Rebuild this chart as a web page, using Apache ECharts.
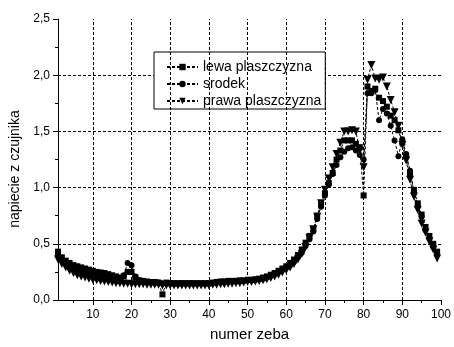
<!DOCTYPE html>
<html>
<head>
<meta charset="utf-8">
<script src="https://cdn.jsdelivr.net/npm/echarts@6/dist/echarts.min.js"></script>
<style>
  html, body { margin: 0; padding: 0; background: #fff; }
  #chart { width: 454px; height: 347px; }
</style>
</head>
<body>
<div id="chart"></div>
<script>
// numer zeba 1..99
const teeth = [
  1, 2, 3, 4, 5, 6, 7, 8, 9, 10, 11, 12, 13, 14, 15, 16, 17, 18, 19, 20,
  21, 22, 23, 24, 25, 26, 27, 28, 29, 30, 31, 32, 33, 34, 35, 36, 37, 38, 39, 40,
  41, 42, 43, 44, 45, 46, 47, 48, 49, 50, 51, 52, 53, 54, 55, 56, 57, 58, 59, 60,
  61, 62, 63, 64, 65, 66, 67, 68, 69, 70, 71, 72, 73, 74, 75, 76, 77, 78, 79, 80,
  81, 82, 83, 84, 85, 86, 87, 88, 89, 90, 91, 92, 93, 94, 95, 96, 97, 98, 99
]
const lewa = [
  0.43, 0.38, 0.35, 0.33, 0.31, 0.30, 0.29, 0.28, 0.27, 0.26,
  0.25, 0.245, 0.24, 0.23, 0.22, 0.21, 0.20, 0.21, 0.25, 0.25,
  0.20, 0.175, 0.17, 0.165, 0.16, 0.16, 0.155, 0.05, 0.155, 0.15,
  0.15, 0.15, 0.15, 0.15, 0.15, 0.15, 0.15, 0.15, 0.15, 0.15,
  0.155, 0.16, 0.165, 0.165, 0.17, 0.17, 0.17, 0.175, 0.175, 0.18,
  0.18, 0.185, 0.19, 0.20, 0.21, 0.225, 0.24, 0.26, 0.28, 0.30,
  0.33, 0.36, 0.40, 0.45, 0.51, 0.57, 0.63, 0.75, 0.85, 0.95,
  1.04, 1.13, 1.25, 1.33, 1.42, 1.42, 1.42, 1.39, 1.36, 0.93,
  1.90, 1.86, 1.88, 1.80, 1.77, 1.72, 1.64, 1.60, 1.51, 1.40,
  1.28, 1.13, 0.98, 0.86, 0.76, 0.65, 0.57, 0.50, 0.43
]
const srodek = [
  0.40, 0.36, 0.33, 0.31, 0.29, 0.27, 0.26, 0.25, 0.24, 0.23,
  0.22, 0.215, 0.21, 0.20, 0.19, 0.185, 0.18, 0.22, 0.33, 0.31,
  0.21, 0.175, 0.165, 0.16, 0.16, 0.155, 0.155, 0.15, 0.15, 0.15,
  0.145, 0.145, 0.145, 0.145, 0.145, 0.145, 0.145, 0.145, 0.145, 0.145,
  0.15, 0.155, 0.155, 0.16, 0.16, 0.165, 0.165, 0.17, 0.17, 0.175,
  0.175, 0.18, 0.185, 0.19, 0.20, 0.215, 0.23, 0.25, 0.27, 0.29,
  0.31, 0.34, 0.38, 0.42, 0.48, 0.54, 0.61, 0.72, 0.83, 0.93,
  1.03, 1.12, 1.20, 1.27, 1.32, 1.35, 1.36, 1.33, 1.29, 1.25,
  1.84, 1.84, 1.87, 1.60, 1.70, 1.66, 1.55, 1.42, 1.28, 1.43,
  1.30, 1.15, 0.96, 0.84, 0.74, 0.62, 0.55, 0.47, 0.42
]
const prawa = [
  0.36, 0.32, 0.29, 0.26, 0.24, 0.22, 0.21, 0.20, 0.19, 0.18,
  0.175, 0.17, 0.165, 0.16, 0.155, 0.15, 0.15, 0.145, 0.145, 0.14,
  0.14, 0.14, 0.14, 0.135, 0.135, 0.135, 0.135, 0.13, 0.13, 0.13,
  0.13, 0.13, 0.13, 0.13, 0.13, 0.13, 0.13, 0.13, 0.13, 0.13,
  0.135, 0.135, 0.14, 0.14, 0.145, 0.145, 0.15, 0.15, 0.155, 0.16,
  0.16, 0.165, 0.17, 0.175, 0.185, 0.195, 0.21, 0.225, 0.245, 0.265,
  0.29, 0.32, 0.36, 0.41, 0.47, 0.55, 0.63, 0.74, 0.86, 0.98,
  1.08, 1.18, 1.30, 1.40, 1.50, 1.50, 1.51, 1.50, 1.33, 1.18,
  1.96, 2.09, 1.97, 1.96, 1.98, 1.90, 1.78, 1.67, 1.55, 1.38,
  1.24, 1.07, 0.92, 0.80, 0.68, 0.60, 0.52, 0.45, 0.37
]
const xLabels = [10, 20, 30, 40, 50, 60, 70, 80, 90, 100]
const xMinor = [5, 15, 25, 35, 45, 55, 65, 75, 85, 95]
const xGrid = [10, 20, 30, 40, 50, 60, 70, 80, 90]

const font = 'Liberation Sans, Arial, sans-serif'
const pairs = (ys) => teeth.map((t, i) => [t, ys[i]])
const dash = [3, 2]

const lineSeries = (name, ys, symbol, size, rotate) => ({
  name: name,
  type: 'line',
  data: pairs(ys),
  symbol: symbol,
  symbolSize: size,
  symbolRotate: rotate || 0,
  showAllSymbol: true,
  itemStyle: { color: '#000' },
  lineStyle: { color: '#000', width: 1, type: dash },
  animation: false,
  z: 3
})

const chart = echarts.init(document.getElementById('chart'), null, { renderer: 'canvas' })
chart.setOption({
  animation: false,
  backgroundColor: '#fff',
  textStyle: { fontFamily: font, color: '#000' },
  grid: { left: 58, right: 10, top: 19, bottom: 43 },
  legend: {
    data: ['lewa plaszczyzna', 'srodek', 'prawa plaszczyzna'],
    orient: 'vertical',
    left: 154,
    top: 52,
    padding: [8, 4, 1, 12],
    itemGap: 3,
    itemWidth: 31,
    itemHeight: 8,
    borderColor: '#000',
    borderWidth: 1,
    backgroundColor: '#fff',
    textStyle: { fontFamily: font, fontSize: 14, color: '#000', lineHeight: 14 }
  },
  xAxis: [
    {
      type: 'value',
      min: 1,
      max: 100,
      name: 'numer zeba',
      nameLocation: 'middle',
      nameGap: 27,
      nameTextStyle: { fontFamily: font, fontSize: 15, color: '#000' },
      axisLine: { lineStyle: { color: '#000', width: 1 } },
      axisTick: { customValues: xLabels, length: 5, lineStyle: { color: '#000' } },
      axisLabel: { customValues: xLabels, margin: 9, fontFamily: font, fontSize: 12, color: '#000' },
      splitLine: { show: false }
    },
    {
      type: 'value',
      min: 1,
      max: 100,
      position: 'bottom',
      axisLine: { show: false },
      axisTick: { customValues: xMinor, length: 3, lineStyle: { color: '#000' } },
      axisLabel: { show: false },
      splitLine: { show: false }
    }
  ],
  yAxis: {
    type: 'value',
    min: 0,
    max: 2.5,
    interval: 0.5,
    name: 'napiecie z czujnika',
    nameLocation: 'middle',
    nameGap: 33,
    nameTextStyle: { fontFamily: font, fontSize: 14, color: '#000', padding: [0, 19, 0, 0] },
    axisLine: { show: true, lineStyle: { color: '#000', width: 1 } },
    axisTick: { show: true, length: 5, lineStyle: { color: '#000' } },
    minorTick: { show: true, splitNumber: 2, length: 3, lineStyle: { color: '#000' } },
    axisLabel: {
      margin: 8, fontFamily: font, fontSize: 12, color: '#000',
      formatter: (v) => v.toFixed(1).replace('.', ',')
    },
    splitLine: {
      show: true,
      showMinLine: false,
      showMaxLine: false,
      lineStyle: { color: '#000', width: 1, type: dash }
    }
  },
  series: [
    {
      name: 'grid',
      type: 'line',
      data: [],
      silent: true,
      z: 1,
      markLine: {
        silent: true,
        symbol: 'none',
        label: { show: false },
        animation: false,
        lineStyle: { color: '#000', width: 1, type: dash },
        data: xGrid.map((v) => ({ xAxis: v }))
      }
    },
    lineSeries('lewa plaszczyzna', lewa, 'rect', 6),
    lineSeries('srodek', srodek, 'circle', 6),
    lineSeries('prawa plaszczyzna', prawa, 'triangle', 8, 180)
  ]
})
</script>
</body>
</html>
